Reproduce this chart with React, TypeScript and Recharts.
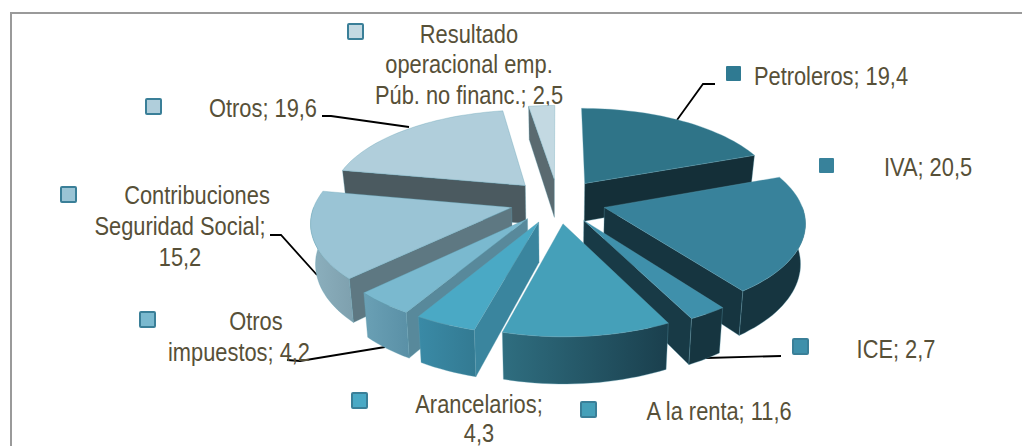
// Exploded perspective pie of revenue shares. Recharts works out the slice
// angles; the Pie shape projects each slice into a tilted 3D wedge.

import { Pie, PieChart } from "recharts";

const names = [
  "Petroleros",
  "IVA",
  "ICE",
  "A la renta",
  "Arancelarios",
  "Otros impuestos",
  "Contribuciones Seguridad Social",
  "Otros",
  "Resultado operacional emp. Púb. no financ.",
];
const values = [19.4, 20.5, 2.7, 11.6, 4.3, 4.2, 15.2, 19.6, 2.5];
const labelLines = [
  ["Petroleros; 19,4"],
  ["IVA; 20,5"],
  ["ICE; 2,7"],
  ["A la renta; 11,6"],
  ["Arancelarios;", "4,3"],
  ["Otros", "impuestos; 4,2"],
  ["Contribuciones", "Seguridad Social;", "15,2"],
  ["Otros; 19,6"],
  ["Resultado", "operacional emp.", "Púb. no financ.; 2,5"],
];

const topColors = ["#2f7488", "#38829b", "#3f90ab", "#45a0b9", "#4aa9c5", "#7ab9cf", "#9ac4d5", "#b0cedb", "#c3d9e2"];
const sideColors = ["#142f38", "#163540", "#183a46", "#1c4452", "#3a859e", "#58899b", "#5e7882", "#4b5a60", "#5a6a70"];
const wallFrom = ["#142f38", "#163540", "#163540", "#2f6e80", "#3a8aa6", "#6aa0b5", "#8cb0be", "#4b5a60", "#5a6a70"];
const wallTo = ["#142f38", "#163540", "#163540", "#1a3f4d", "#337a92", "#5a90a6", "#7ea0ae", "#4b5a60", "#5a6a70"];
const keyColors = ["#2f7a92", "#38829b", "#3f90ab", "#45a0b9", "#4aa9c5", "#7ab9cf", "#9ac4d5", "#b0cedb", "#c3d9e2"];

// back to front
const paintOrder = [8, 7, 0, 6, 1, 5, 4, 2, 3];

const rows = names.map((name, i) => ({ name, value: values[i] }));

const TILT = 0.46;
const PERSPECTIVE = 0.14;
const EXPLODE = 0.245;
const DEPTH = 39;
const TAPER = 0.98;
const rad = (d: number) => (d * Math.PI) / 180;

function Wedge(props: any) {
  const { cx, cy, outerRadius: R, startAngle, endAngle, index } = props;
  // Recharts angles run counter-clockwise from 3 o'clock; use clockwise from 12
  const a0 = 90 - startAngle;
  const a1 = 90 - endAngle;
  const mid = rad((a0 + a1) / 2);
  const ox = EXPLODE * Math.sin(mid);
  const oy = -EXPLODE * Math.cos(mid);

  const top = (deg: number, r: number) => {
    const u = ox + r * Math.sin(rad(deg));
    const v = oy - r * Math.cos(rad(deg));
    const s = 1 / (1 - PERSPECTIVE * v);
    return { x: cx + u * s * R, y: cy + v * s * R * TILT, s };
  };
  const bottom = (deg: number, r: number) => {
    const p = top(deg, r);
    return { x: cx + (p.x - cx) * TAPER, y: p.y + DEPTH * p.s, s: p.s };
  };
  const path = (pts: { x: number; y: number }[]) =>
    "M" + pts.map((p) => `${p.x.toFixed(1)},${p.y.toFixed(1)}`).join("L") + "Z";
  const arc = (from: number, to: number, fn: typeof top) => {
    const n = Math.max(2, Math.ceil(Math.abs(to - from) / 2));
    return Array.from({ length: n + 1 }, (_, i) => fn(from + ((to - from) * i) / n, 1));
  };

  const edge = { stroke: "#5f9fb3", strokeWidth: 0.6, strokeOpacity: 0.55 };
  const gradId = `wall-${index}`;
  const wallStart = Math.max(a0, 90);
  const wallEnd = Math.min(a1, 270);

  return (
    <g>
      <defs>
        <linearGradient id={gradId} x1="0" y1="0" x2="1" y2="0">
          <stop offset="0" stopColor={wallFrom[index]} />
          <stop offset="1" stopColor={wallTo[index]} />
        </linearGradient>
      </defs>
      {Math.sin(rad(a0)) < 0 && (
        <path
          d={path([top(a0, 0), top(a0, 1), bottom(a0, 1), bottom(a0, 0)])}
          fill={sideColors[index]}
          {...edge}
        />
      )}
      {Math.sin(rad(a1)) > 0 && (
        <path
          d={path([top(a1, 0), top(a1, 1), bottom(a1, 1), bottom(a1, 0)])}
          fill={sideColors[index]}
          {...edge}
        />
      )}
      {wallEnd > wallStart && (
        <path
          d={path([...arc(wallStart, wallEnd, top), ...arc(wallEnd, wallStart, bottom)])}
          fill={`url(#${gradId})`}
          {...edge}
        />
      )}
      <path d={path([top(a0, 0), ...arc(a0, a1, top)])} fill={topColors[index]} {...edge} />
    </g>
  );
}

const textCenters = [
  [831],
  [928],
  [896],
  [719],
  [479, 479],
  [256, 239],
  [197, 180, 180],
  [263],
  [469, 469, 469],
];
const textBaselines = [
  [85],
  [176],
  [358],
  [420],
  [413, 442],
  [330, 361],
  [204, 235, 266],
  [117],
  [43, 73, 104],
];
const keySpots = [
  [726, 66],
  [819, 158],
  [793, 339],
  [581, 402],
  [352, 393],
  [140, 312],
  [61, 187],
  [146, 99],
  [348, 24],
];
const leaders = [
  "M715,84L703,84L677,120",
  "M322,116L331,116L409,127",
  "M270,235L281,235L317,275",
  "M287,360L300,361L385,347",
  "M706,358L781,356",
];

export default function App() {
  return (
    <div style={{ position: "absolute", left: 0, top: 0, width: 1022, height: 446, background: "#fff", overflow: "hidden" }}>
      <div
        style={{
          position: "absolute",
          left: 10,
          top: 12,
          width: 1012,
          height: 434,
          borderLeft: "2px solid #9a9a9a",
          borderTop: "2px solid #9a9a9a",
          boxSizing: "border-box",
        }}
      />
      <div style={{ position: "absolute", left: 0, top: 0 }}>
        <PieChart width={1022} height={446} margin={{ top: 0, right: 0, bottom: 0, left: 0 }}>
          {paintOrder.map((slice) => (
            <Pie
              key={slice}
              data={rows}
              dataKey="value"
              nameKey="name"
              cx={558}
              cy={201}
              innerRadius={0}
              outerRadius={196}
              startAngle={90}
              endAngle={-270}
              stroke="none"
              isAnimationActive={false}
              shape={(p: any) => (p.index === slice ? <Wedge {...p} /> : <g />)}
            />
          ))}
          {leaders.map((d) => (
            <path key={d} d={d} fill="none" stroke="#000" strokeWidth={1.8} />
          ))}
          {keySpots.map(([x, y], i) => (
            <rect
              key={names[i]}
              x={x}
              y={y}
              width={15}
              height={15}
              rx={1}
              fill={keyColors[i]}
              stroke="#3a7f98"
              strokeWidth={i < 2 ? 0 : 2}
            />
          ))}
          {labelLines.map((lines, i) =>
            lines.map((line, j) => (
              <text
                key={`${i}-${j}`}
                transform={`translate(${textCenters[i][j]},${textBaselines[i][j]}) scale(0.84,1)`}
                textAnchor="middle"
                fontFamily='"Liberation Sans", sans-serif'
                fontSize={26}
                fill="#575038"
              >
                {line}
              </text>
            )),
          )}
        </PieChart>
      </div>
    </div>
  );
}
